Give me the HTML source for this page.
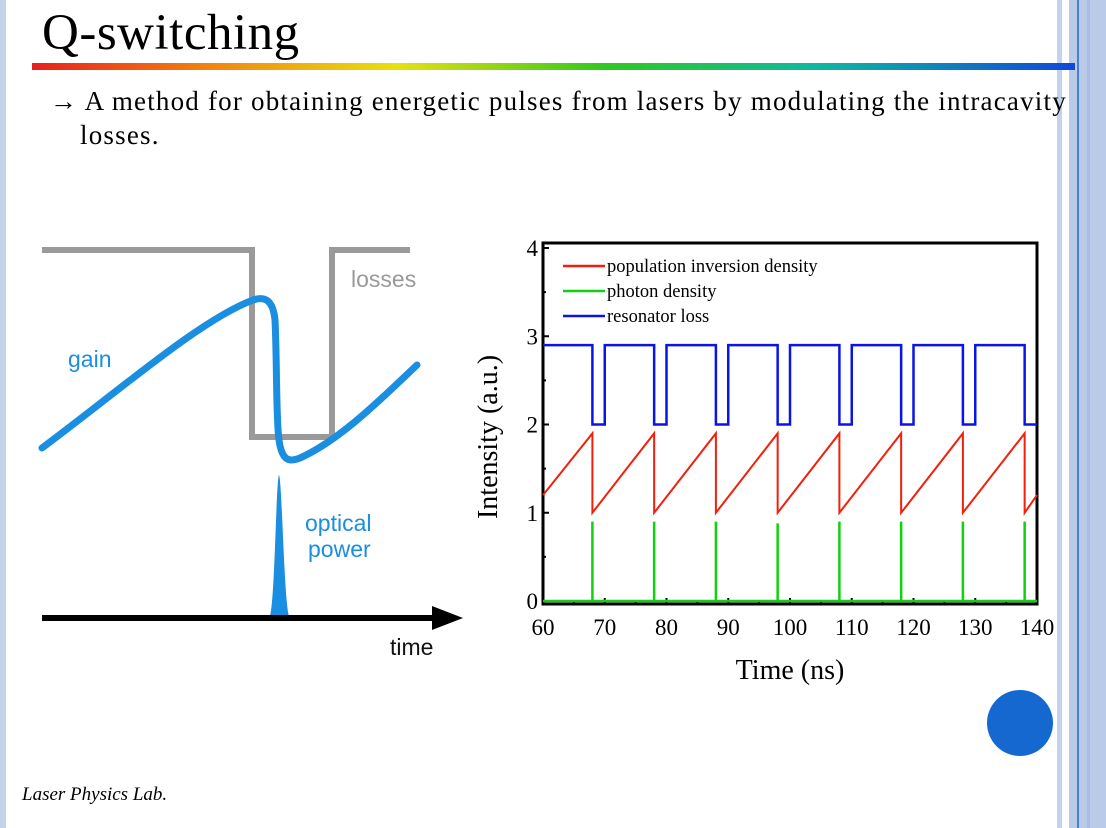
<!DOCTYPE html>
<html><head><meta charset="utf-8"><style>
body{margin:0;width:1106px;height:828px;overflow:hidden;background:#fff;position:relative;font-family:"Liberation Serif",serif}
.abs{position:absolute}
</style></head><body>
<div class="abs" style="left:0;top:0;width:6px;height:828px;background:#c4d3ec"></div>
<div class="abs" style="left:1057px;top:0;width:5px;height:828px;background:#c4d3ec"></div>
<div class="abs" style="left:1069px;top:0;width:37px;height:828px;background:#b9cbe8"></div>
<div class="abs" style="left:1077px;top:0;width:2px;height:828px;background:#4d7fd0"></div>
<div class="abs" style="left:1087px;top:0;width:3px;height:828px;background:#a9bde3"></div>
<div class="abs" style="left:42px;top:4px;font-size:51px;letter-spacing:0.5px;color:#000">Q-switching</div>
<div class="abs" style="left:32px;top:63px;width:1043px;height:7px;background:linear-gradient(90deg,#e8201c,#f08a10 18%,#e8e010 35%,#30c820 55%,#10b8a0 75%,#1048d8)"></div>
<div class="abs" style="left:50px;top:84px;font-size:27px;letter-spacing:1.2px;line-height:34px;color:#000;width:1060px;white-space:nowrap">→ A method for obtaining energetic pulses from lasers by modulating the intracavity<br><span style="padding-left:30px">losses.</span></div>
<div class="abs" style="left:22px;top:784px;font-size:19px;font-style:italic;color:#000">Laser Physics Lab.</div>
<div class="abs" style="left:987px;top:690px;width:66px;height:66px;border-radius:50%;background:#1468d0"></div>

<svg class="abs" style="left:0;top:0" width="1106" height="828">
<polyline points="42,250 252,250 252,437 332,437 332,250 410,250" fill="none" stroke="#9a9a9a" stroke-width="6"/>
<path d="M42,448 C120,390 200,320 253,300 C265,296 273,300 275,320 C277,360 276,420 279,440 C282,462 290,462 300,458 C340,440 380,400 417,365" fill="none" stroke="#1a8ee0" stroke-width="7" stroke-linecap="round"/>
<path d="M270,616 C275,600 276,480 279,475 C282,480 284,600 289,616 Z" fill="#1a8ee0"/>
<line x1="42" y1="618" x2="436" y2="618" stroke="#000" stroke-width="6"/>
<polygon points="432,606 463,618 432,630" fill="#000"/>
<g font-family="Liberation Sans,sans-serif" font-size="23">
<text x="351" y="287" fill="#999">losses</text>
<text x="68" y="367" fill="#1a8ee0">gain</text>
<text x="305" y="531" fill="#1a8ee0">optical</text>
<text x="308" y="557" fill="#1a8ee0">power</text>
<text x="390" y="655" fill="#111">time</text>
</g>
<g id="chart"></g>
</svg>
<script>
const xTicks=[60,70,80,90,100,110,120,130,140];
const yTicks=[0,1,2,3,4];
const pulseTimes=[68,78,88,98,108,118,128,138];
const pulseHeights=[0.9,0.9,0.9,0.88,0.9,0.9,0.9,0.9];
const lossHigh=[2.9];
const lossLow=[2.0];
const lossLowDuration=[2];
const invStart=[1.2];
const invPeak=[1.9];
const invReset=[1.0];
const invEnd=[1.2];
const legendLabels=["population inversion density","photon density","resonator loss"];
const X0=543,X1=1037,Y0=601,Y1=248;
const sx=t=>X0+(t-60)/(140-60)*(X1-X0);
const sy=v=>Y0-(v-0)/(4-0)*(Y0-Y1);
const NS="http://www.w3.org/2000/svg";
const g=document.getElementById('chart');
function mk(tag,attrs){const e=document.createElementNS(NS,tag);for(const k in attrs)e.setAttribute(k,attrs[k]);g.appendChild(e);return e;}
let fr=mk('rect',{x:X0,y:243,width:X1-X0,height:361,fill:'none',stroke:'#000','stroke-width':3});


xTicks.forEach(t=>{
 let tl=mk('text',{x:sx(t),y:635,'font-size':23,'text-anchor':'middle',fill:'#000'});tl.textContent=t;
 
 
 mk('line',{x1:sx(t),y1:604,x2:sx(t),y2:598,stroke:'#000','stroke-width':2});
 if(t<140)mk('line',{x1:sx(t+5),y1:604,x2:sx(t+5),y2:601,stroke:'#000','stroke-width':2});
});
yTicks.forEach(v=>{
 let tl=mk('text',{x:538,y:sy(v)+8,'font-size':23,'text-anchor':'end',fill:'#000'});tl.textContent=v;
 
 
 mk('line',{x1:X0,y1:sy(v),x2:X0+6,y2:sy(v),stroke:'#000','stroke-width':2});
 if(v<4)mk('line',{x1:X0,y1:sy(v+0.5),x2:X0+3,y2:sy(v+0.5),stroke:'#000','stroke-width':2});
});
let xt=mk('text',{x:790,y:679,'font-size':28,'text-anchor':'middle',fill:'#000'});xt.textContent='Time (ns)';


let yt=mk('text',{x:0,y:0,'font-size':28,'text-anchor':'middle',fill:'#000',transform:'translate(497,437) rotate(-90)'});yt.textContent='Intensity (a.u.)';


let lp=`M${sx(60)},${sy(lossHigh[0])}`;
pulseTimes.forEach(t=>{lp+=` L${sx(t)},${sy(lossHigh[0])} L${sx(t)},${sy(lossLow[0])} L${sx(Math.min(140,t+lossLowDuration[0]))},${sy(lossLow[0])}`; if(t+lossLowDuration[0]<140) lp+=` L${sx(t+lossLowDuration[0])},${sy(lossHigh[0])}`;});
let lossPath=mk('path',{d:lp,fill:'none',stroke:'#0a14e6','stroke-width':2.5});


let ip=`M${sx(60)},${sy(invStart[0])}`;
pulseTimes.forEach(t=>{ip+=` L${sx(t)},${sy(invPeak[0])} L${sx(t)},${sy(invReset[0])}`;});
ip+=` L${sx(140)},${sy(invEnd[0])}`;
let invPath=mk('path',{d:ip,fill:'none',stroke:'#f0200c','stroke-width':2});


let base=mk('line',{x1:sx(60),y1:sy(0),x2:sx(140),y2:sy(0),stroke:'#10d010','stroke-width':2.5});


pulseTimes.forEach((t,i)=>{
 let p=mk('line',{x1:sx(t),y1:sy(0),x2:sx(t),y2:sy(pulseHeights[i]),stroke:'#10d010','stroke-width':2.5});
 
 
});
const lc=['#f0200c','#10d010','#0a14e6'];
legendLabels.forEach((s,i)=>{
 const y=266+i*25;
 mk('line',{x1:563,y1:y,x2:605,y2:y,stroke:lc[i],'stroke-width':2.5});
 let t=mk('text',{x:607,y:y+6,'font-size':18.5,fill:'#000'});t.textContent=s;
 
 
});
</script>
</body></html>
